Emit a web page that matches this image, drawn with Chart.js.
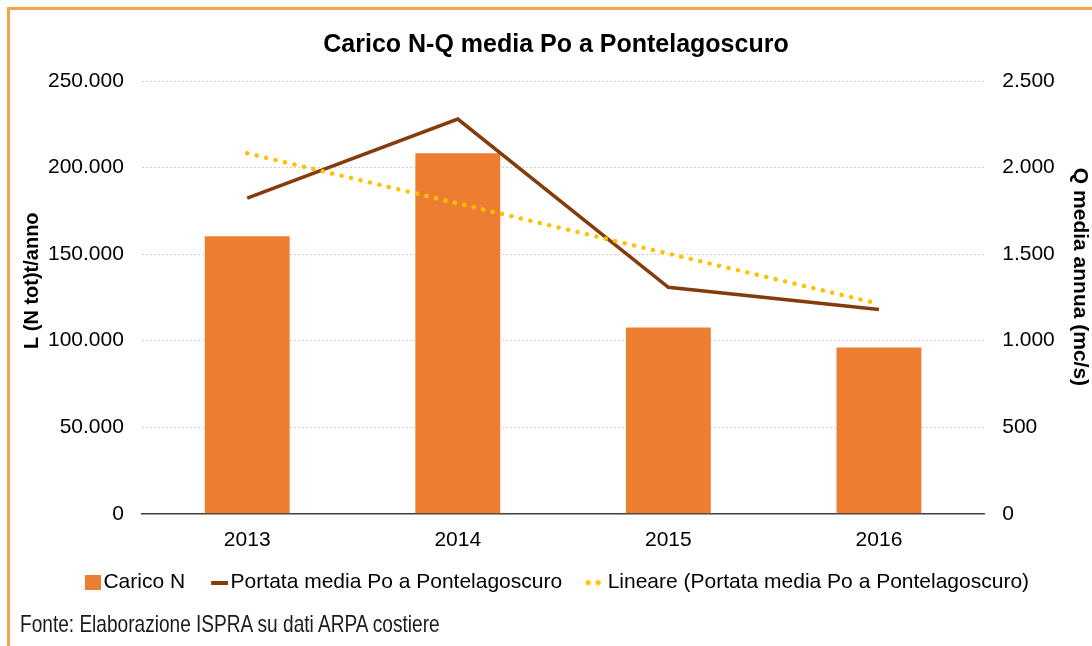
<!DOCTYPE html>
<html>
<head>
<meta charset="utf-8">
<script src="https://cdn.jsdelivr.net/npm/chart.js@4.4.0/dist/chart.umd.min.js"></script>
<style>
  body { margin: 0; background: #fff; }
  #wrap { position: relative; width: 1092px; height: 646px; overflow: hidden; }
  #frame { position: absolute; left: 7px; top: 7px; width: 1100px; height: 700px;
           border-left: 3px solid #F7A24F; border-top: 3px solid #F7A24F; }
  #chart { position: absolute; left: 0; top: 0; }
  #fonte { position: absolute; left: 20px; top: 612px; font-family: "Liberation Sans", Arial, sans-serif;
           font-size: 24px; line-height: 24px; color: #1a1a1a; white-space: nowrap;
           transform: scaleX(0.795); transform-origin: 0 0; }
</style>
</head>
<body>
<div id="wrap">
  <div id="frame"></div>
  <canvas id="chart" width="1092" height="646"></canvas>
  <div id="fonte">Fonte: Elaborazione ISPRA su dati ARPA costiere</div>
</div>
<script>
// values
const anni = ["2013", "2014", "2015", "2016"];
const caricoN = [160300, 208300, 107600, 96000];          // t/anno
const portata = [1823, 2280, 1308, 1180];                 // mc/s
const lineare = [2083, 1793, 1503, 1213];                 // trend line shown in the picture
const leftTicks = [0, 50000, 100000, 150000, 200000, 250000];
const rightTicks = [0, 500, 1000, 1500, 2000, 2500];

const FONT = "'Liberation Sans', Arial, sans-serif";
const PSW = 30;   // legend pointStyleWidth; swatch images carry a transparent left margin of this size

function fmt(v) {
    return String(v).replace(/\B(?=(\d{3})+(?!\d))/g, ".");
}

// small canvases used as legend swatches (visible part sits at the right end)
function swatch(h, draw) {
    const c = document.createElement("canvas");
    c.width = PSW + 16; c.height = h;
    const g = c.getContext("2d");
    g.translate(PSW, 0);
    draw(g);
    return c;
}
const swBar = swatch(15, g => { g.fillStyle = "#ED7D31"; g.fillRect(0, 0, 16, 15); });
const swLine = swatch(4, g => { g.fillStyle = "#843C0C"; g.fillRect(-1, 0, 17, 4); });
const swDots = swatch(6, g => {
    g.fillStyle = "#FFC000";
    [-1, 9].forEach(x => { g.beginPath(); g.arc(x, 3, 2.6, 0, Math.PI * 2); g.fill(); });
});

// move the drawn legend a bit (left and down) so it sits like the reference
const legendShift = {
    id: "legendShift",
    afterLayout(chart) {
        const l = chart.legend;
        if (l) { l.left -= 10; l.right -= 10; l.top += 8; l.bottom += 8; }
    }
};

const ctx = document.getElementById("chart").getContext("2d");
new Chart(ctx, {
    data: {
        labels: anni,
        datasets: [
            { type: "bar", label: "Carico N", data: caricoN, yAxisID: "y",
              backgroundColor: "#ED7D31", order: 3,
              categoryPercentage: 1, barPercentage: 0.403 },
            { type: "line", label: "Portata media Po a Pontelagoscuro", data: portata, yAxisID: "y1",
              borderColor: "#843C0C", borderWidth: 3.5, pointRadius: 0, tension: 0, order: 2 },
            { type: "line", label: "Lineare (Portata media Po a Pontelagoscuro)", data: lineare, yAxisID: "y1",
              borderColor: "#FFC000", borderWidth: 4.5, borderDash: [0.1, 9.6], borderCapStyle: "round",
              pointRadius: 0, tension: 0, order: 1 }
        ]
    },
    plugins: [legendShift],
    options: {
        responsive: false,
        animation: false,
        layout: { padding: { left: 20, right: 0, top: 30, bottom: 51 } },
        plugins: {
            tooltip: { enabled: false },
            title: {
                display: true,
                text: "Carico N-Q media Po a Pontelagoscuro",
                color: "#000",
                font: { family: FONT, size: 25, weight: "bold" },
                padding: { top: 0, bottom: 21 }
            },
            legend: {
                position: "bottom",
                labels: {
                    color: "#000",
                    font: { family: FONT, size: 21 },
                    usePointStyle: true,
                    pointStyleWidth: PSW,
                    padding: 5,
                    generateLabels(chart) {
                        const imgs = [swBar, swLine, swDots];
                        return chart.data.datasets.map((ds, i) => ({
                            text: ds.label, pointStyle: imgs[i], datasetIndex: i,
                            fillStyle: "transparent", strokeStyle: "transparent", lineWidth: 0,
                            fontColor: "#000"
                        }));
                    }
                }
            }
        },
        scales: {
            x: {
                grid: { display: false },
                border: { color: "#3f3f3f", width: 1.5 },
                ticks: { color: "#000", font: { family: FONT, size: 21 }, padding: 6 }
            },
            y: {
                position: "left",
                min: 0, max: 250000,
                afterBuildTicks: s => { s.ticks = leftTicks.map(v => ({ value: v })); },
                grid: { color: "#d0d0d0", drawTicks: false },
                border: { display: false, dash: [2, 2] },
                ticks: { color: "#000", font: { family: FONT, size: 21 }, padding: 18, callback: v => fmt(v) },
                // leading spaces lift the title a little, as in the reference
                title: { display: true, text: "      L (N tot)t/anno", color: "#000",
                         font: { family: FONT, size: 20, weight: "bold" }, padding: { top: 0, bottom: -14 } }
            },
            y1: {
                position: "right",
                min: 0, max: 2500,
                afterBuildTicks: s => { s.ticks = rightTicks.map(v => ({ value: v })); },
                grid: { drawOnChartArea: false, drawTicks: false },
                border: { display: false },
                ticks: { color: "#000", font: { family: FONT, size: 21 }, padding: 18, callback: v => fmt(v) },
                title: { display: true, text: "Q media annua (mc/s)       ", color: "#000",
                         font: { family: FONT, size: 21, weight: "bold" }, padding: { top: 0, bottom: -6 } }
            }
        }
    }
});
</script>
</body>
</html>
